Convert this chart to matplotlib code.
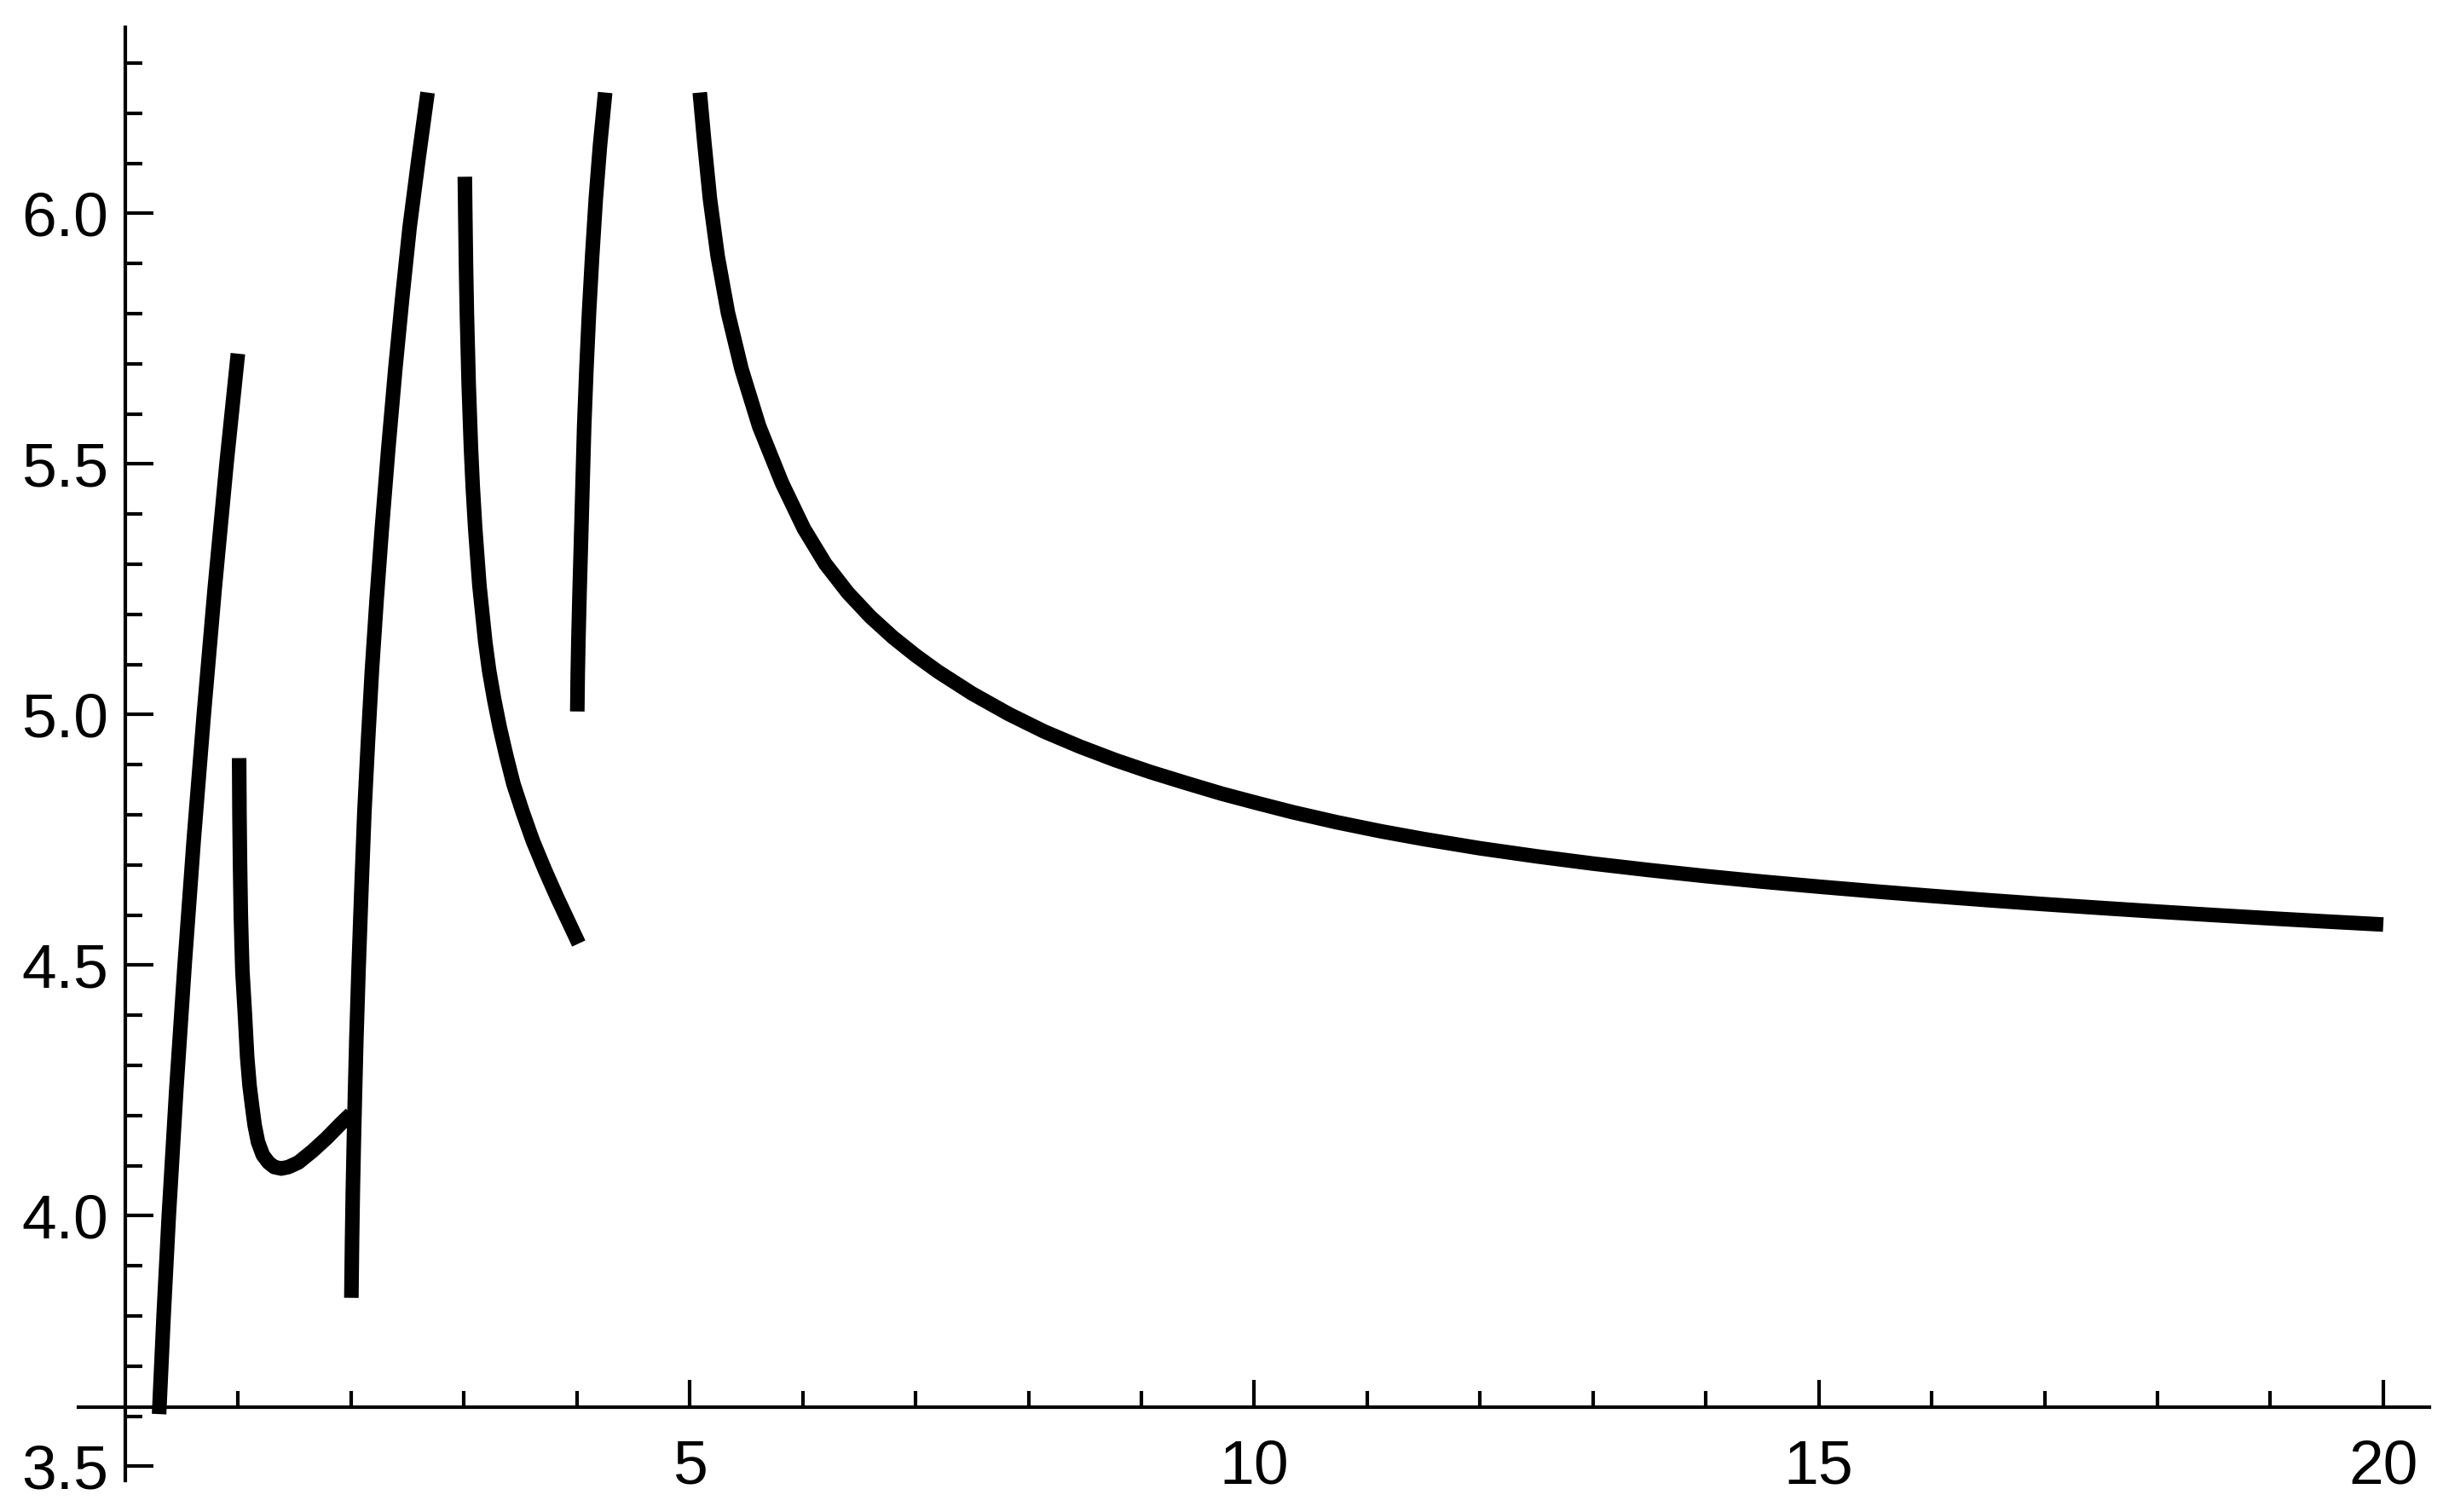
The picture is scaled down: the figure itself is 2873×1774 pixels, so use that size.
import matplotlib
matplotlib.use("Agg")
import matplotlib.pyplot as plt

plt.rcParams['font.family'] = ['Liberation Sans', 'DejaVu Sans']

# ---- data ----
curve_a_x = [0.300, 0.340, 0.386, 0.452, 0.526, 0.607, 0.696, 0.792, 0.897, 0.998]
curve_a_y = [3.604, 3.800, 4.000, 4.250, 4.500, 4.750, 5.000, 5.250, 5.500, 5.720]

curve_b_x = [1.009, 1.012, 1.017, 1.024, 1.031, 1.038, 1.060, 1.080, 1.101, 1.123,
             1.146, 1.176, 1.219, 1.269, 1.320, 1.382, 1.445, 1.533, 1.659, 1.785,
             1.911, 1.999]
curve_b_y = [4.913, 4.800, 4.700, 4.600, 4.540, 4.487, 4.402, 4.317, 4.260, 4.220,
             4.181, 4.147, 4.121, 4.106, 4.097, 4.094, 4.097, 4.106, 4.129, 4.155,
             4.184, 4.203]

curve_c_x = [2.003, 2.009, 2.016, 2.026, 2.035, 2.047, 2.066, 2.091, 2.118, 2.150,
             2.185, 2.227, 2.273, 2.330, 2.392, 2.453, 2.519, 2.596, 2.678]
curve_c_y = [3.836, 3.950, 4.050, 4.158, 4.243, 4.350, 4.487, 4.645, 4.804, 4.946,
             5.088, 5.230, 5.371, 5.530, 5.689, 5.830, 5.972, 6.106, 6.241]

curve_d_x = [3.008, 3.012, 3.018, 3.026, 3.042, 3.062, 3.078, 3.100, 3.137, 3.189,
             3.223, 3.267, 3.317, 3.375, 3.439, 3.522, 3.611, 3.715, 3.826, 3.944,
             4.017]
curve_d_y = [6.073, 6.000, 5.900, 5.802, 5.660, 5.533, 5.455, 5.371, 5.258, 5.145,
             5.088, 5.031, 4.9745, 4.918, 4.861, 4.804, 4.7475, 4.691, 4.6345, 4.578,
             4.543]

curve_e_x = [4.004, 4.008, 4.014, 4.025, 4.040, 4.052, 4.065, 4.085, 4.108, 4.136,
             4.168, 4.205, 4.251]
curve_e_y = [5.006, 5.080, 5.150, 5.250, 5.370, 5.470, 5.575, 5.690, 5.802, 5.915,
             6.029, 6.135, 6.241]

curve_f_x = [5.089, 5.129, 5.179, 5.247, 5.338, 5.459, 5.615, 5.817, 6.011, 6.200,
             6.400, 6.600, 6.800, 7.000, 7.196, 7.500, 7.825, 8.140, 8.455, 8.770,
             9.083, 9.400, 9.712, 10.030, 10.342, 10.730, 11.122, 11.500, 12.000, 12.500,
             13.000, 13.500, 14.000, 14.500, 15.000, 15.500, 16.000, 16.500, 17.000, 17.500,
             18.000, 18.500, 19.000, 19.500, 20.000]
curve_f_y = [6.241, 6.142, 6.029, 5.915, 5.802, 5.689, 5.575, 5.462, 5.371, 5.301,
             5.243, 5.195, 5.154, 5.118, 5.086, 5.042, 5.001, 4.966, 4.936, 4.909,
             4.885, 4.863, 4.842, 4.823, 4.805, 4.785, 4.767, 4.7515, 4.733, 4.717,
             4.7025, 4.6895, 4.6775, 4.6665, 4.6565, 4.647, 4.638, 4.6295, 4.6215, 4.614,
             4.6067, 4.5998, 4.5932, 4.5869, 4.5809]

curves = [(curve_a_x, curve_a_y), (curve_b_x, curve_b_y), (curve_c_x, curve_c_y),
          (curve_d_x, curve_d_y), (curve_e_x, curve_e_y), (curve_f_x, curve_f_y)]

x_major = [5, 10, 15, 20]
x_major_labels = ["5", "10", "15", "20"]
x_minor = [1, 2, 3, 4, 6, 7, 8, 9, 11, 12, 13, 14, 16, 17, 18, 19]
y_major = [3.5, 4.0, 4.5, 5.0, 5.5, 6.0]
y_major_labels = ["3.5", "4.0", "4.5", "5.0", "5.5", "6.0"]
y_minor = [3.6, 3.7, 3.8, 3.9, 4.1, 4.2, 4.3, 4.4, 4.6, 4.7, 4.8, 4.9,
           5.1, 5.2, 5.3, 5.4, 5.6, 5.7, 5.8, 5.9, 6.1, 6.2, 6.3]

# ---- figure ----
W, H, DPI = 2873, 1774, 300
fig = plt.figure(figsize=(W / DPI, H / DPI), dpi=DPI)
ax = fig.add_axes([0, 0, 1, 1])
ax.patch.set_alpha(0)

# pixel mapping
px_per_x = 132.45
x0_px = 146.9
px_per_y = 588.0
y6_px = 250.3
ax.set_xlim((0 - x0_px) / px_per_x, (W - x0_px) / px_per_x)
ax.set_ylim(6.0 - (H - y6_px) / px_per_y, 6.0 - (0 - y6_px) / px_per_y)

for xs, ys in curves:
    ax.plot(xs, ys, color='black', lw=4.1, solid_capstyle='butt',
            solid_joinstyle='round', clip_on=False)

axis_y = 3.618
for s in ['top', 'right']:
    ax.spines[s].set_visible(False)
ax.spines['left'].set_position(('data', 0))
ax.spines['bottom'].set_position(('data', axis_y))
ax.spines['left'].set_bounds(3.472, 6.372)
ax.spines['bottom'].set_bounds(-0.414, 20.41)
for s in ['left', 'bottom']:
    ax.spines[s].set_linewidth(1.0)
    ax.spines[s].set_color('black')

ax.set_xticks(x_major)
ax.set_xticklabels(x_major_labels)
ax.set_xticks(x_minor, minor=True)
ax.set_yticks(y_major)
ax.set_yticklabels(y_major_labels)
ax.set_yticks(y_minor, minor=True)

ax.tick_params(axis='both', which='both', direction='in', color='black', width=1.0,
               labelsize=17.6, labelcolor='black')
ax.tick_params(axis='y', which='major', length=7.9, pad=4.8)
ax.tick_params(axis='y', which='minor', length=4.7)
ax.tick_params(axis='x', which='major', length=7.6, pad=9.0)
ax.tick_params(axis='x', which='minor', length=4.6)

fig.savefig('out.png', dpi=DPI, facecolor='white')
